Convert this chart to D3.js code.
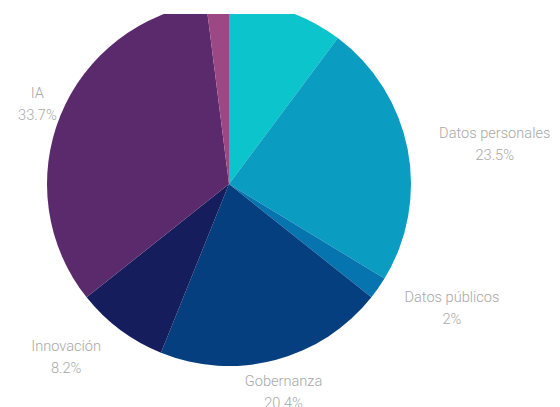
<!DOCTYPE html>
<html>
<head>
<meta charset="utf-8">
<script src="https://cdn.jsdelivr.net/npm/d3@7"></script>
<style>
  body { margin: 0; background: #fff; }
  svg { display: block; }
  .lbl { font-family: Roboto, "Open Sans", sans-serif; font-size: 14.6px; font-weight: 300; fill: #a8a8a8; }
</style>
</head>
<body>
<svg id="chart" width="560" height="407"></svg>
<script>
// slices, clockwise from 12 o'clock
var categories = ["", "Datos personales", "Datos públicos", "Gobernanza", "Innovación", "IA", ""];
var values     = [10.2, 23.5, 2, 20.4, 8.2, 33.7, 2.0];
var valueLabels = ["", "23.5%", "2%", "20.4%", "8.2%", "33.7%", ""];
var colors = ["#0bc4cc", "#0a9dc1", "#0674ae", "#063f80", "#161d5c", "#5b2a6c", "#9b4884"];

var width = 560, height = 407;
var cx = 229, cy = 184, radius = 182;
var labelR = 214, lineH = 22;

var svg = d3.select("#chart");

svg.append("clipPath").attr("id", "clip")
  .append("rect").attr("x", 0).attr("y", 14).attr("width", width).attr("height", height - 14);

var data = categories.map(function(c, i) {
  return {name: c, value: values[i], pct: valueLabels[i], color: colors[i]};
});

var pie = d3.pie().sort(null).value(function(d) { return d.value; });
var arc = d3.arc().innerRadius(0).outerRadius(radius);

var g = svg.append("g").attr("clip-path", "url(#clip)");
var pieG = g.append("g").attr("transform", "translate(" + cx + "," + cy + ")");

var arcs = pie(data);

pieG.selectAll("path")
  .data(arcs)
  .enter().append("path")
    .attr("d", arc)
    .attr("fill", function(d) { return d.data.color; });

// labels outside, anchored by side
var labels = g.selectAll("text.lbl")
  .data(arcs.filter(function(d) { return d.data.name != ""; }))
  .enter().append("text")
    .attr("class", "lbl");

labels.each(function(d) {
  var a = (d.startAngle + d.endAngle) / 2;
  var s = Math.sin(a), c = Math.cos(a);
  var x = cx + labelR * s;
  var y = cy - labelR * c;
  var t = d3.select(this);

  t.append("tspan").attr("x", 0).attr("dy", 0).text(d.data.name);
  t.append("tspan").attr("x", 0).attr("dy", lineH).text(d.data.pct);

  var bb = this.getBBox();
  var w = bb.width;
  var left;
  if (Math.abs(s) < 0.35) left = x - w / 2;
  else if (s > 0) left = x;
  else left = x - w;
  // keep label block inside the view
  if (left < 18) left = 18;
  if (left + w > width - 4) left = width - 4 - w;

  var mid = left + w / 2;
  t.attr("text-anchor", "middle")
   .attr("transform", "translate(" + mid + "," + (y - lineH / 2 + 6) + ")");
});
</script>
</body>
</html>
